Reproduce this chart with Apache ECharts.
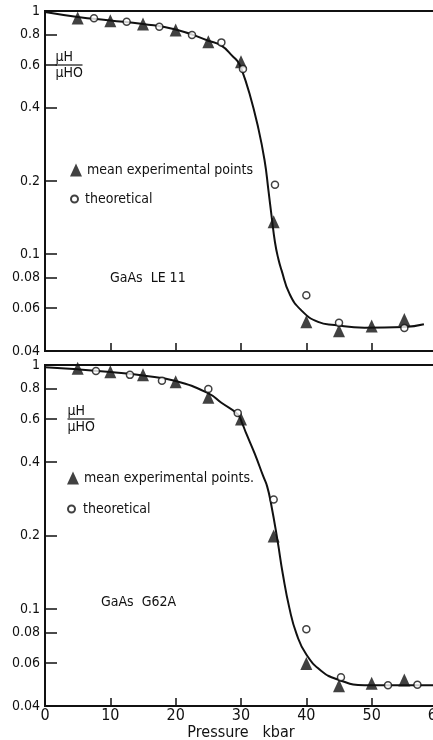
<!DOCTYPE html>
<html>
<head>
<meta charset="utf-8">
<style>
  html, body { margin: 0; padding: 0; background: #fff; }
  #chart { width: 433px; height: 740px; }
</style>
<script src="https://cdn.jsdelivr.net/npm/echarts@6/dist/echarts.min.js"></script>
</head>
<body>
<div id="chart"></div>
<script>
// tick positions
const yTicks = [0.04, 0.06, 0.08, 0.1, 0.2, 0.4, 0.6, 0.8, 1];
const xMin = 0, xMax = 60, xStep = 10;

// GaAs LE 11 (upper panel)
const topExpX = [5, 10, 15, 20, 25, 30, 35, 40, 45, 50, 55];
const topExpY = [0.935, 0.912, 0.884, 0.835, 0.748, 0.618, 0.136, 0.0527, 0.0484, 0.0507, 0.0539];
const topTheoX = [7.5, 12.5, 17.5, 22.5, 27, 30.3, 35.2, 40, 45, 55];
const topTheoY = [0.933, 0.904, 0.862, 0.797, 0.743, 0.577, 0.193, 0.0678, 0.0523, 0.0497];
const topCurveX = [0, 5, 10, 15, 20, 25, 27, 28.8, 29.5, 30, 31.3, 32.6, 33.6, 34.2, 34.7, 35.2, 35.7, 36.2, 37.4, 39.2, 41.8, 44.3, 48.9, 55, 58];
const topCurveY = [0.99, 0.945, 0.915, 0.885, 0.84, 0.755, 0.72, 0.649, 0.62, 0.585, 0.458, 0.334, 0.244, 0.183, 0.142, 0.112, 0.096, 0.086, 0.069, 0.0589, 0.0527, 0.0512, 0.0499, 0.0502, 0.0515];

// GaAs G62A (lower panel)
const botExpX = [5, 10, 15, 20, 25, 30, 35, 40, 45, 50, 55];
const botExpY = [0.969, 0.939, 0.913, 0.853, 0.737, 0.6, 0.199, 0.0598, 0.0484, 0.0496, 0.0511];
const botTheoX = [7.8, 13, 17.9, 25, 29.5, 35, 40, 45.3, 52.5, 57];
const botTheoY = [0.945, 0.911, 0.862, 0.797, 0.636, 0.281, 0.0826, 0.0525, 0.0486, 0.0489];
const botCurveX = [0, 5, 10, 15, 20, 25, 27, 29.5, 30.2, 30.8, 32.1, 33.4, 34, 34.6, 35.6, 36.4, 37.4, 38.5, 40, 42.3, 44.8, 48.9, 55, 60];
const botCurveY = [0.98, 0.96, 0.935, 0.905, 0.86, 0.765, 0.7, 0.628, 0.575, 0.524, 0.433, 0.35, 0.318, 0.27, 0.19, 0.139, 0.101, 0.079, 0.065, 0.0557, 0.0514, 0.0486, 0.0486, 0.0486];

const font = '"DejaVu Sans Condensed", "Liberation Sans Narrow", "DejaVu Sans", sans-serif';
const ink = '#111';

const zip = (xs, ys) => xs.map((x, i) => [x, ys[i]]);

const xAxis = (gi, withLabels) => ({
  type: 'value', gridIndex: gi, min: xMin, max: xMax, interval: xStep,
  name: withLabels ? 'Pressure   kbar' : '',
  nameLocation: 'middle', nameGap: 14,
  nameTextStyle: { fontFamily: font, fontSize: 16, color: ink },
  axisLine: { show: true, lineStyle: { color: ink, width: 2 } },
  axisTick: { show: true, inside: true, length: 8, lineStyle: { color: ink, width: 1.5 } },
  axisLabel: { show: withLabels, margin: 2, fontFamily: font, fontSize: 16, color: ink },
  splitLine: { show: false }
});

const yAxis = (gi) => ({
  type: 'log', gridIndex: gi, logBase: 10, min: 0.04, max: 1,
  axisLine: { show: true, lineStyle: { color: ink, width: 2 } },
  axisTick: { show: true, inside: true, length: 12, customValues: yTicks, lineStyle: { color: ink, width: 1.5 } },
  axisLabel: { customValues: yTicks, margin: 5, fontFamily: font, fontSize: 14, color: ink, formatter: v => String(v) },
  splitLine: { show: false },
  minorTick: { show: false }
});

const curve = (gi, xs, ys) => ({
  type: 'line', xAxisIndex: gi, yAxisIndex: gi, data: zip(xs, ys),
  smooth: 0.5, symbol: 'none', silent: true, z: 1,
  lineStyle: { color: ink, width: 2 }
});
const exp = (gi, name, xs, ys) => ({
  type: 'scatter', name, xAxisIndex: gi, yAxisIndex: gi, data: zip(xs, ys),
  symbol: 'triangle', symbolSize: [12, 13], z: 3,
  itemStyle: { color: ink }
});
const theo = (gi, name, xs, ys) => ({
  type: 'scatter', name, xAxisIndex: gi, yAxisIndex: gi, data: zip(xs, ys),
  symbol: 'circle', symbolSize: 7, z: 4,
  itemStyle: { color: '#fff', borderColor: ink, borderWidth: 1.5 }
});

const legendText = {
  'LE11 exp': 'mean experimental points',
  'LE11 theo': 'theoretical',
  'G62A exp': 'mean experimental points.',
  'G62A theo': 'theoretical'
};
const legend = (name, left, top, w, h) => ({
  data: [name], left, top, itemWidth: w, itemHeight: h, padding: 0,
  selectedMode: false,
  formatter: n => legendText[n],
  textStyle: { fontFamily: font, fontSize: 14, color: ink }
});

const fraction = (x, y) => ({
  type: 'group', left: x, top: y,
  children: [
    { type: 'text', x: 0, y: 0, style: { text: 'μH', font: '14px ' + font, fill: ink } },
    { type: 'line', shape: { x1: 0, y1: 15, x2: 27, y2: 15 }, style: { stroke: ink, lineWidth: 1.2 } },
    { type: 'text', x: 0, y: 16, style: { text: 'μHO', font: '14px ' + font, fill: ink } }
  ]
});

const gridBase = { left: 45, width: 392, show: true, borderColor: ink, borderWidth: 2, outerBoundsMode: 'none', containLabel: false };

const chart = echarts.init(document.getElementById('chart'));
chart.setOption({
  animation: false,
  backgroundColor: '#fff',
  grid: [
    Object.assign({}, gridBase, { top: 11, height: 340 }),
    Object.assign({}, gridBase, { top: 365, height: 341 })
  ],
  xAxis: [xAxis(0, false), xAxis(1, true)],
  yAxis: [yAxis(0), yAxis(1)],
  legend: [
    legend('LE11 exp', 70, 163, 12, 13),
    legend('LE11 theo', 70, 192, 11, 7),
    legend('G62A exp', 67, 471, 12, 13),
    legend('G62A theo', 67, 502, 13, 7)
  ],
  graphic: [
    fraction(53, 50),
    fraction(65, 404),
    { type: 'text', left: 110, top: 271, style: { text: 'GaAs  LE 11', font: '14px ' + font, fill: ink } },
    { type: 'text', left: 101, top: 595, style: { text: 'GaAs  G62A', font: '14px ' + font, fill: ink } }
  ],
  series: [
    curve(0, topCurveX, topCurveY),
    exp(0, 'LE11 exp', topExpX, topExpY),
    theo(0, 'LE11 theo', topTheoX, topTheoY),
    curve(1, botCurveX, botCurveY),
    exp(1, 'G62A exp', botExpX, botExpY),
    theo(1, 'G62A theo', botTheoX, botTheoY)
  ]
});
</script>
</body>
</html>
